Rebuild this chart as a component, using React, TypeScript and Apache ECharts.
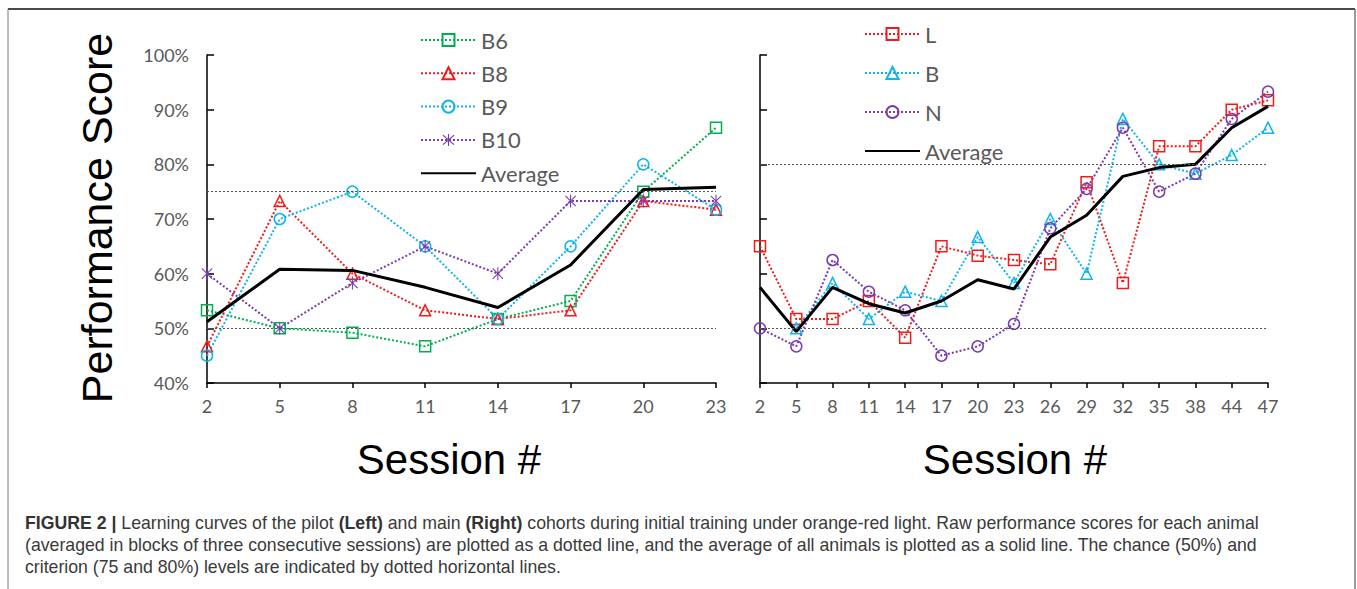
import React, { useEffect, useRef } from 'react';
import * as echarts from 'echarts';

// ---------- data ----------
const leftSessions = ['2', '5', '8', '11', '14', '17', '20', '23'];
const b6 = [53.3, 50, 49.2, 46.7, 51.7, 55, 75, 86.7];
const b8 = [46.7, 73.3, 60, 53.3, 51.7, 53.3, 73.3, 71.7];
const b9 = [45, 70, 75, 65, 51.7, 65, 80, 71.7];
const b10 = [60, 50, 58.3, 65, 60, 73.3, 73.3, 73.3];
const leftAverage = [51.2, 60.8, 60.6, 57.5, 53.8, 61.6, 75.4, 75.8];

const rightSessions = ['2', '5', '8', '11', '14', '17', '20', '23', '26', '29', '32', '35', '38', '44', '47'];
const seriesL = [65, 51.7, 51.7, 55, 48.3, 65, 63.3, 62.5, 61.7, 76.7, 58.3, 83.3, 83.3, 90, 91.7];
const seriesB = [null, 50, 58.3, 51.7, 56.7, 55, 66.7, 58.3, 70, 60, 88.3, 80, 78.3, 81.7, 86.7];
const seriesN = [50, 46.7, 62.5, 56.7, 53.3, 45, 46.7, 50.8, 68.3, 75.5, 86.7, 75, 78.3, 88.3, 93.3];
const rightAverage = [57.5, 49.4, 57.5, 54.5, 52.8, 55, 58.9, 57.2, 66.7, 70.7, 77.8, 79.4, 80, 86.7, 90.6];

const chanceLevel = 50;
const leftCriterion = 75;
const rightCriterion = 80;

const yMin = 40;
const yMax = 100;
const yStep = 10;

const leftLegend = ['B6', 'B8', 'B9', 'B10', 'Average'];
const rightLegend = ['L', 'B', 'N', 'Average'];

const captionLines = [
  '{b|FIGURE 2 |} Learning curves of the pilot {b|(Left)} and main {b|(Right)} cohorts during initial training under orange-red light. Raw performance scores for each animal',
  '(averaged in blocks of three consecutive sessions) are plotted as a dotted line, and the average of all animals is plotted as a solid line. The chance (50%) and',
  'criterion (75 and 80%) levels are indicated by dotted horizontal lines.',
];

// ---------- styling ----------
const GREEN = '#00B050';
const RED = '#F01C1C';
const CYAN = '#10B4EC';
const PURPLE = '#7A3BB0';
const TICK_GRAY = '#595959';
const TICK_FONT = 'Lato';
const SANS = '"Liberation Sans", Arial, sans-serif';
const CAPTION_SIZE = 17.7;

const ASTERISK =
  'path://M9.2 0 L10.8 0 L10.8 20 L9.2 20 Z ' +
  'M2.566 1.434 L18.566 17.434 L17.434 18.566 L1.434 2.566 Z ' +
  'M18.566 2.566 L2.566 18.566 L1.434 17.434 L17.434 1.434 Z';

function animalSeries(name: string, data: (number | null)[], color: string, symbol: string, idx: number, filled = false) {
  return {
    type: 'line',
    name,
    data,
    xAxisIndex: idx,
    yAxisIndex: idx,
    symbol,
    symbolSize: filled ? 13 : 11,
    symbolKeepAspect: true,
    showSymbol: true,
    connectNulls: false,
    lineStyle: { color, width: 2, type: [2, 2] },
    itemStyle: filled
      ? { color, borderWidth: 0 }
      : { color: 'rgba(255,255,255,0)', borderColor: color, borderWidth: 1.5 },
    emphasis: { disabled: true },
    z: 2,
  };
}

function averageSeries(data: number[], idx: number) {
  return {
    type: 'line',
    name: 'Average',
    data,
    xAxisIndex: idx,
    yAxisIndex: idx,
    symbol: 'none',
    lineStyle: { color: '#000', width: 3, type: 'solid' },
    itemStyle: { color: 'rgba(0,0,0,0)', borderColor: 'rgba(0,0,0,0)', borderWidth: 0 },
    emphasis: { disabled: true },
    z: 3,
  };
}

function refLines(levels: number[]) {
  return {
    silent: true,
    symbol: ['none', 'none'],
    label: { show: false },
    lineStyle: { color: '#555', width: 1, type: [2, 2] },
    data: levels.map((v) => ({ yAxis: v })),
  };
}

function xAxisFor(cats: string[], idx: number) {
  return {
    type: 'category',
    gridIndex: idx,
    data: cats,
    boundaryGap: false,
    axisLine: { lineStyle: { color: '#000', width: 1.5 } },
    axisTick: { show: true, inside: false, length: 5, lineStyle: { color: '#000', width: 1.5 } },
    axisLabel: { color: TICK_GRAY, fontFamily: TICK_FONT, fontSize: 18, margin: 14 },
    splitLine: { show: false },
  };
}

function yAxisFor(idx: number, showLabels: boolean) {
  return {
    type: 'value',
    gridIndex: idx,
    min: yMin,
    max: yMax,
    interval: yStep,
    axisLine: { show: true, lineStyle: { color: '#000', width: 1.5 } },
    axisTick: { show: true, inside: true, length: 7, lineStyle: { color: '#000', width: 1.5 } },
    axisLabel: {
      show: showLabels,
      formatter: '{value}%',
      color: TICK_GRAY,
      fontFamily: TICK_FONT,
      fontSize: 18,
      margin: 18,
    },
    splitLine: { show: false },
  };
}

function legendFor(names: string[], left: number, top: number, itemWidth: number, gap: number) {
  return {
    orient: 'vertical',
    left,
    top,
    padding: 0,
    itemWidth,
    itemHeight: 15,
    itemGap: gap,
    selectedMode: false,
    data: names.map((n) =>
      n === 'Average'
        ? { name: n, itemStyle: { color: 'rgba(0,0,0,0)', borderColor: 'rgba(0,0,0,0)', borderWidth: 0 } }
        : { name: n }
    ),
    textStyle: { color: TICK_GRAY, fontFamily: TICK_FONT, fontSize: 22, padding: [0, 0, 0, 0] },
  };
}

export default function App() {
  const ref = useRef<HTMLDivElement>(null);

  useEffect(() => {
    if (!ref.current) return;
    const chart = echarts.init(ref.current, undefined, { renderer: 'svg' });

    const s6 = animalSeries('B6', b6, GREEN, 'rect', 0);
    (s6 as any).markLine = refLines([leftCriterion, chanceLevel]);
    const sL = animalSeries('L', seriesL, RED, 'rect', 1);
    (sL as any).markLine = refLines([rightCriterion, chanceLevel]);

    const option: any = {
      animation: false,
      backgroundColor: '#fff',
      grid: [
        { left: 207, top: 55, width: 509, height: 328 },
        { left: 760, top: 55, width: 508, height: 328 },
      ],
      xAxis: [xAxisFor(leftSessions, 0), xAxisFor(rightSessions, 1)],
      yAxis: [yAxisFor(0, true), yAxisFor(1, false)],
      legend: [legendFor(leftLegend, 420, 29, 55, 11.3), legendFor(rightLegend, 864, 23, 55, 17)],
      series: [
        s6,
        animalSeries('B8', b8, RED, 'triangle', 0),
        animalSeries('B9', b9, CYAN, 'circle', 0),
        animalSeries('B10', b10, PURPLE, ASTERISK, 0, true),
        averageSeries(leftAverage, 0),
        sL,
        animalSeries('B', seriesB, CYAN, 'triangle', 1),
        animalSeries('N', seriesN, PURPLE, 'circle', 1),
        averageSeries(rightAverage, 1),
      ],
      graphic: [
        { type: 'line', shape: { x1: 8, y1: 9, x2: 1355, y2: 9 }, style: { stroke: '#4a4a4a', lineWidth: 2 }, silent: true },
        { type: 'line', shape: { x1: 8, y1: 9, x2: 8, y2: 589 }, style: { stroke: '#7a7a7a', lineWidth: 1 }, silent: true },
        { type: 'line', shape: { x1: 1355, y1: 9, x2: 1355, y2: 589 }, style: { stroke: '#7a7a7a', lineWidth: 1.5 }, silent: true },
        {
          type: 'text',
          x: 97,
          y: 218,
          rotation: Math.PI / 2,
          style: { text: 'Performance Score', fontSize: 43, fontFamily: SANS, fill: '#000', align: 'center', verticalAlign: 'middle' },
        },
        {
          type: 'text',
          x: 449,
          y: 459,
          style: { text: 'Session #', fontSize: 42, fontFamily: SANS, fill: '#000', align: 'center', verticalAlign: 'middle' },
        },
        {
          type: 'text',
          x: 1015,
          y: 459,
          style: { text: 'Session #', fontSize: 42, fontFamily: SANS, fill: '#000', align: 'center', verticalAlign: 'middle' },
        },
        ...captionLines.map((t, i) => ({
          type: 'text',
          x: 25,
          y: 523 + i * 22,
          style: {
            text: t,
            fontSize: CAPTION_SIZE,
            fontFamily: SANS,
            fill: '#3a3a3a',
            align: 'left',
            verticalAlign: 'middle',
            rich: { b: { fontWeight: 'bold', fontSize: CAPTION_SIZE, fontFamily: SANS, fill: '#333' } },
          },
        })),
      ],
    };

    chart.setOption(option);
    return () => chart.dispose();
  }, []);

  return <div ref={ref} style={{ position: 'absolute', left: 0, top: 0, width: 1357, height: 589 }} />;
}
